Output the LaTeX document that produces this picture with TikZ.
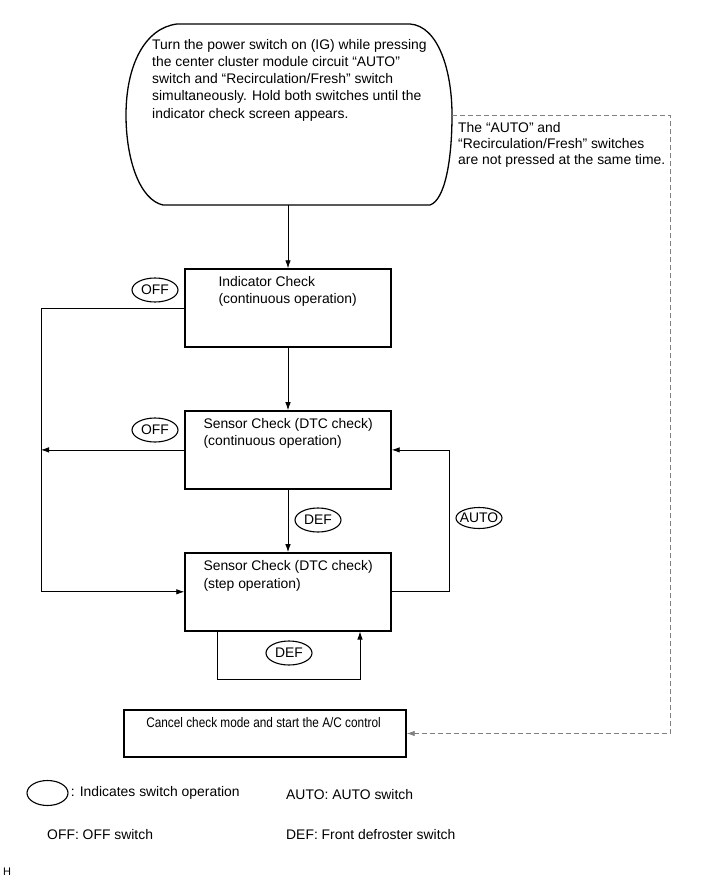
\documentclass[tikz,border=0pt]{standalone}
\usepackage{fontspec}
\setmainfont{Liberation Sans}
\newfontfamily\narrowsans[FakeStretch=0.85]{Liberation Sans}
\usetikzlibrary{arrows.meta,positioning,shapes.geometric}

\tikzset{
    stepbox/.style={draw, line width=1.4pt, minimum width=206pt, minimum height=78pt, inner sep=0pt},
    boxtext/.style={align=left, inner sep=0pt, anchor=north west},
    sw/.style={ellipse, draw, line width=1.1pt, minimum width=46pt, minimum height=24pt, inner xsep=-6pt, inner ysep=0pt},
    conn/.style={line width=0.8pt, -{Latex[length=8pt,width=5.5pt]}},
    dashconn/.style={conn, gray, dash pattern=on 5pt off 3pt},
    legtext/.style={anchor=west, inner sep=0pt}
}

\begin{document}
\begin{tikzpicture}[
            x=1pt, y=-1pt,
            node distance=62.5pt,
            every node/.style={font=\fontsize{13.9pt}{17.2pt}\selectfont}
        ]
        \useasboundingbox (0,0) rectangle (713,882);

        % start condition
        \draw[line width=1.3pt] (177,24) -- (410,24) .. controls (438,26) and (452,70) .. (452,115)
            .. controls (452,160) and (445,200) .. (430,205) -- (163,205)
            .. controls (140,200) and (126,160) .. (126,115) .. controls (126,65) and (145,28) .. (177,24) -- cycle;
        \coordinate (startS) at (288,205);
        \coordinate (startE) at (452,115);
        \node[boxtext] (starttxt) at (152,39) {Turn the power switch on (IG) while pressing\\the center cluster module circuit “AUTO”\\switch and “Recirculation/Fresh” switch\\simultaneously. Hold both switches until the\\indicator check screen appears.};

        % check modes
        \node[stepbox] (ind) at (288,308) {};
        \node[stepbox, below=of ind] (sccont) {};
        \node[stepbox, below=of sccont] (scstep) {};
        \node[stepbox, minimum width=282pt, minimum height=47pt] (cancel) at (265,733.5) {};

        \node[boxtext, below right=8pt and 34pt of ind.north west] (indtxt) {Indicator Check\\(continuous operation)};
        \node[boxtext, below right=8pt and 19pt of sccont.north west] (sccontxt) {Sensor Check (DTC check)\\(continuous operation)};
        \node[boxtext, below right=8.5pt and 19pt of scstep.north west] (scsteptxt) {Sensor Check (DTC check)\\(step operation)};
        \node[inner sep=0pt, anchor=north, below=8pt of cancel.north, xshift=-1.5pt, font=\narrowsans\fontsize{13.9pt}{17.2pt}\selectfont] (canceltxt) {Cancel check mode and start the A/C control};

        \node[boxtext, font=\fontsize{13.9pt}{16.3pt}\selectfont] (nottxt) at (458,122) {The “AUTO” and\\“Recirculation/Fresh” switches\\are not pressed at the same time.};

        % switch operations
        \node[sw] (off1) at (155,290) {OFF};
        \node[sw] (off2) at (155,430) {OFF};
        \node[sw] (def1) at (318,520) {DEF};
        \node[sw, minimum height=21pt] (auto) at (479,518) {AUTO};
        \node[sw] (def2) at (289,653) {DEF};

        \coordinate (lbus) at (41,0);
        \coordinate (rbus) at (449,0);
        \coordinate (dbus) at (670,0);

        \draw[conn] (startS) -- (ind.north);
        \draw[conn] (ind) -- (sccont);
        \draw[conn] (ind.west) -| (lbus |- scstep.west) -- (scstep.west);
        \draw[conn] (sccont.west) -- (sccont.west -| lbus);
        \draw[conn] (sccont) -- (scstep);
        \draw[conn] (scstep.east) -| (rbus |- sccont.east) -- (sccont.east);
        \draw[conn] ([xshift=-71pt]scstep.south) -- ++(0,48) -| ([xshift=72pt]scstep.south);
        \draw[dashconn] (startE) -| (dbus |- cancel.east) -- (cancel.east);

        % legend
        \node[sw, minimum width=41pt, minimum height=25pt] (legsw) at (47.5,793) {};
        \node[legtext, right=2pt of legsw] (legswtxt) {: Indicates switch operation};
        \node[legtext] (legauto) at (286,795) {AUTO: AUTO switch};
        \node[legtext] (legoff) at (47,835) {OFF: OFF switch};
        \node[legtext] (legdef) at (286,835) {DEF: Front defroster switch};
        \node[legtext, font=\fontsize{11pt}{13pt}\selectfont] (hmark) at (3,872) {H};
    \end{tikzpicture}
\end{document}
